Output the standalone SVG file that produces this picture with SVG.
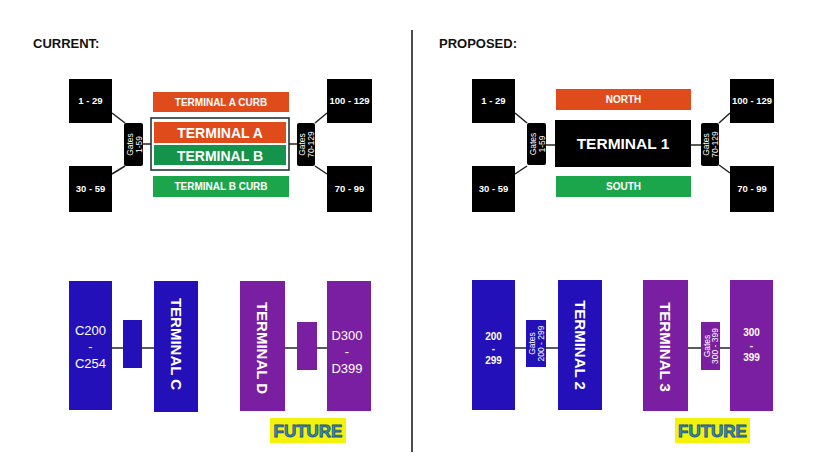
<svg xmlns="http://www.w3.org/2000/svg" width="821" height="463" viewBox="0 0 821 463">
<style>
.hd{font-family:"Liberation Sans",Arial,sans-serif;font-weight:bold;font-size:13px;fill:#111}
.blk{fill:#000}
.gl{font-family:"Liberation Sans",Arial,sans-serif;font-weight:bold;font-size:9.5px;fill:#fff;text-anchor:middle}
.gt{font-family:"Liberation Sans",Arial,sans-serif;font-size:8.5px;fill:#fff;text-anchor:middle}
.bar{font-family:"Liberation Sans",Arial,sans-serif;font-weight:bold;font-size:10px;fill:#fff;text-anchor:middle}
.big{font-family:"Liberation Sans",Arial,sans-serif;font-weight:bold;font-size:14px;fill:#fff;text-anchor:middle}
.vt{font-family:"Liberation Sans",Arial,sans-serif;font-weight:bold;font-size:15px;fill:#fff;text-anchor:middle}
.nt{font-family:"Liberation Sans",Arial,sans-serif;font-size:13px;fill:#fff;text-anchor:middle}
.nb{font-family:"Liberation Sans",Arial,sans-serif;font-weight:bold;font-size:10px;fill:#fff;text-anchor:middle}
.or{fill:#E04B1B}
.gr{fill:#1BA64B}
.gd{fill:#14934A}
.bl{fill:#2310B8}
.pu{fill:#7B1FA2}
.ln{stroke:#222;stroke-width:1.5;fill:none}
.fut{font-family:"Liberation Sans",Arial,sans-serif;font-weight:bold;font-size:17px;fill:#3C93A8;stroke:#1B4F86;stroke-width:0.8;text-anchor:middle}
</style>
<rect width="821" height="463" fill="#fff"/>
<line x1="412" y1="30" x2="412" y2="452" stroke="#111" stroke-width="1.5"/>
<text class="hd" x="33" y="48">CURRENT:</text>
<text class="hd" x="439" y="48">PROPOSED:</text>

<g id="connectors">
<line class="ln" x1="112" y1="113" x2="125" y2="123"/>
<line class="ln" x1="125" y1="166" x2="112" y2="174"/>
<line class="ln" x1="143" y1="144" x2="151" y2="144"/>
<line class="ln" x1="289" y1="144" x2="297" y2="144"/>
<line class="ln" x1="315" y1="123" x2="327" y2="113"/>
<line class="ln" x1="315" y1="166" x2="327" y2="174"/>
<line class="ln" x1="515" y1="113" x2="527" y2="123"/>
<line class="ln" x1="527" y1="166" x2="515" y2="174"/>
<line class="ln" x1="546" y1="145" x2="555" y2="145"/>
<line class="ln" x1="691" y1="145" x2="701" y2="145"/>
<line class="ln" x1="719" y1="123" x2="730" y2="113"/>
<line class="ln" x1="719" y1="165" x2="730" y2="173"/>
<line class="ln" x1="112" y1="348" x2="154" y2="348"/>
<line class="ln" x1="285" y1="348" x2="327" y2="348"/>
<line class="ln" x1="515" y1="348" x2="558" y2="348"/>
<line class="ln" x1="688" y1="348" x2="730" y2="348"/>
</g>

<!-- CURRENT top -->
<g id="c-1-29"><rect class="blk" x="69" y="79" width="43" height="44"/><text class="gl" x="90.5" y="104">1 - 29</text></g>
<g id="c-30-59"><rect class="blk" x="69" y="166" width="43" height="46"/><text class="gl" x="90.5" y="192">30 - 59</text></g>
<g id="c-gates-l"><rect class="blk" x="124" y="123" width="19" height="43" rx="2"/>
<text class="gt" transform="translate(134,144.5) rotate(-90)"><tspan x="0" y="-1">Gates</tspan><tspan x="0" y="7.5">1-59</tspan></text></g>
<g id="c-acurb"><rect class="or" x="153" y="92" width="136" height="20"/><text class="bar" x="221" y="106">TERMINAL A CURB</text></g>
<g id="c-ab"><rect x="151" y="118" width="138" height="52" fill="#fff" stroke="#1a2a2a" stroke-width="1.5"/>
<rect class="or" x="154" y="122" width="132" height="21"/><text class="big" x="220" y="138">TERMINAL A</text>
<rect class="gd" x="154" y="145" width="132" height="20"/><text class="big" x="220" y="160.5">TERMINAL B</text></g>
<g id="c-bcurb"><rect class="gr" x="153" y="176" width="136" height="21"/><text class="bar" x="221" y="190">TERMINAL B CURB</text></g>
<g id="c-gates-r"><rect class="blk" x="297" y="123" width="18" height="43" rx="2"/>
<text class="gt" transform="translate(306,144.5) rotate(-90)"><tspan x="0" y="-1">Gates</tspan><tspan x="0" y="7.5">70-129</tspan></text></g>
<g id="c-100-129"><rect class="blk" x="327" y="79" width="45" height="44"/><text class="gl" x="349.5" y="104">100 - 129</text></g>
<g id="c-70-99"><rect class="blk" x="327" y="166" width="45" height="46"/><text class="gl" x="349.5" y="192">70 - 99</text></g>

<!-- PROPOSED top -->
<g id="p-1-29"><rect class="blk" x="472" y="79" width="43" height="44"/><text class="gl" x="493.5" y="104">1 - 29</text></g>
<g id="p-30-59"><rect class="blk" x="472" y="166" width="43" height="46"/><text class="gl" x="493.5" y="192">30 - 59</text></g>
<g id="p-gates-l"><rect class="blk" x="527" y="123" width="19" height="42" rx="2"/>
<text class="gt" transform="translate(537,144) rotate(-90)"><tspan x="0" y="-1">Gates</tspan><tspan x="0" y="7.5">1-59</tspan></text></g>
<g id="p-north"><rect class="or" x="556" y="89" width="135" height="21"/><text class="bar" x="623.5" y="103">NORTH</text></g>
<g id="p-t1"><rect class="blk" x="555" y="120" width="136" height="47"/><text class="big" x="623" y="149" style="font-size:15.5px">TERMINAL 1</text></g>
<g id="p-south"><rect class="gr" x="556" y="176" width="135" height="21"/><text class="bar" x="623.5" y="190">SOUTH</text></g>
<g id="p-gates-r"><rect class="blk" x="701" y="123" width="18" height="43" rx="2"/>
<text class="gt" transform="translate(710,144.5) rotate(-90)"><tspan x="0" y="-1">Gates</tspan><tspan x="0" y="7.5">70-129</tspan></text></g>
<g id="p-100-129"><rect class="blk" x="730" y="79" width="44" height="44"/><text class="gl" x="752" y="104">100 - 129</text></g>
<g id="p-70-99"><rect class="blk" x="730" y="166" width="44" height="46"/><text class="gl" x="752" y="192">70 - 99</text></g>

<!-- CURRENT bottom -->
<g id="c-c200"><rect class="bl" x="69" y="281" width="43" height="129"/>
<text class="nt" x="90.5" y="335">C200</text><text class="nt" x="90.5" y="351">-</text><text class="nt" x="90.5" y="368">C254</text></g>
<g id="c-cg"><rect class="bl" x="123" y="320" width="19" height="48"/></g>
<g id="c-tc"><rect class="bl" x="154" y="281" width="44" height="131"/><text class="vt" transform="translate(171,344) rotate(90)">TERMINAL C</text></g>
<g id="c-td"><rect class="pu" x="240" y="281" width="45" height="130"/><text class="vt" transform="translate(257,348) rotate(90)">TERMINAL D</text></g>
<g id="c-dg"><rect class="pu" x="297" y="322" width="20" height="48"/></g>
<g id="c-d300"><rect class="pu" x="327" y="281" width="44" height="130"/>
<text class="nt" x="347" y="340">D300</text><text class="nt" x="347" y="356">-</text><text class="nt" x="347" y="373">D399</text></g>
<g id="c-future"><rect x="270" y="418" width="76" height="25" fill="#F3F20A"/><text class="fut" x="308" y="437">FUTURE</text></g>

<!-- PROPOSED bottom -->
<g id="p-200"><rect class="bl" x="472" y="280" width="43" height="130"/>
<text class="nb" x="493.5" y="340">200</text><text class="nb" x="493.5" y="352">-</text><text class="nb" x="493.5" y="364">299</text></g>
<g id="p-g2"><rect class="bl" x="526" y="320" width="20" height="47"/>
<text class="gt" transform="translate(536,343.5) rotate(-90)"><tspan x="0" y="-1">Gates</tspan><tspan x="0" y="7.5">200 - 299</tspan></text></g>
<g id="p-t2"><rect class="bl" x="558" y="280" width="44" height="130"/><text class="vt" transform="translate(575,345) rotate(90)">TERMINAL 2</text></g>
<g id="p-t3"><rect class="pu" x="643" y="280" width="45" height="131"/><text class="vt" transform="translate(660,347) rotate(90)">TERMINAL 3</text></g>
<g id="p-g3"><rect class="pu" x="701" y="322" width="19" height="48"/>
<text class="gt" transform="translate(710.5,346) rotate(-90)"><tspan x="0" y="-1">Gates</tspan><tspan x="0" y="7.5">300 - 399</tspan></text></g>
<g id="p-300"><rect class="pu" x="730" y="280" width="43" height="131"/>
<text class="nb" x="751.5" y="336">300</text><text class="nb" x="751.5" y="349">-</text><text class="nb" x="751.5" y="361">399</text></g>
<g id="p-future"><rect x="675" y="418" width="75" height="25" fill="#F3F20A"/><text class="fut" x="712.5" y="437">FUTURE</text></g>
</svg>
